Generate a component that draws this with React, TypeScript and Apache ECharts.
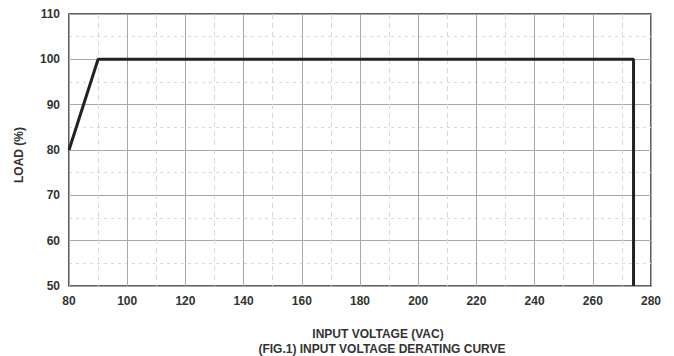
import React, { useEffect, useRef } from "react";
import * as echarts from "echarts";

const curveVoltage = [80, 90, 274, 274];
const curveLoad = [80, 100, 100, 50];
const xTitle = "INPUT VOLTAGE (VAC)";
const yTitle = "LOAD (%)";
const figTitle = "(FIG.1) INPUT VOLTAGE DERATING CURVE";

export default function App() {
  const ref = useRef<HTMLDivElement>(null);
  useEffect(() => {
    document.body.style.margin = "0";
    const chart = echarts.init(ref.current!, null, { renderer: "svg" });
    const font = "'Liberation Sans', Arial, sans-serif";
    chart.setOption({
      animation: false,
      backgroundColor: "#ffffff",
      grid: {
        left: 69,
        right: 23,
        top: 14,
        bottom: 70,
        show: true,
        borderColor: "#2a2a2a",
        borderWidth: 1.5,
        backgroundColor: "transparent",
      },
      xAxis: {
        type: "value",
        min: 80,
        max: 280,
        interval: 20,
        axisLine: { show: false },
        axisTick: { show: false },
        axisLabel: { color: "#333", fontWeight: "bold", fontSize: 12, fontFamily: font, margin: 9 },
        splitLine: { show: true, lineStyle: { color: "#a8a8a8", width: 1 } },
        minorTick: { show: false, splitNumber: 2 },
        minorSplitLine: { show: true, lineStyle: { color: "#d8d8d8", width: 1, type: [5, 4] } },
      },
      yAxis: {
        type: "value",
        min: 50,
        max: 110,
        interval: 10,
        axisLine: { show: false },
        axisTick: { show: false },
        axisLabel: { color: "#333", fontWeight: "bold", fontSize: 12, fontFamily: font, margin: 9 },
        splitLine: { show: true, lineStyle: { color: "#a8a8a8", width: 1 } },
        minorTick: { show: false, splitNumber: 2 },
        minorSplitLine: { show: true, lineStyle: { color: "#d8d8d8", width: 1, type: [3, 4] } },
      },
      series: [
        {
          type: "line",
          data: curveVoltage.map((v, i) => [v, curveLoad[i]]),
          symbol: "none",
          lineStyle: { color: "#222", width: 3 },
          z: 5,
        },
      ],
      graphic: [
        {
          type: "text",
          x: 378,
          y: 334,
          style: {
            text: xTitle,
            fill: "#333",
            font: `bold 12px ${font}`,
            align: "center",
            verticalAlign: "middle",
          },
        },
        {
          type: "text",
          x: 382,
          y: 349,
          style: {
            text: figTitle,
            fill: "#333",
            font: `bold 12px ${font}`,
            align: "center",
            verticalAlign: "middle",
          },
        },
        {
          type: "text",
          x: 19,
          y: 155,
          rotation: Math.PI / 2,
          style: {
            text: yTitle,
            fill: "#333",
            font: `bold 12px ${font}`,
            align: "center",
            verticalAlign: "middle",
          },
        },
      ],
    });
    return () => chart.dispose();
  }, []);
  return <div ref={ref} style={{ width: 674, height: 356 }} />;
}
